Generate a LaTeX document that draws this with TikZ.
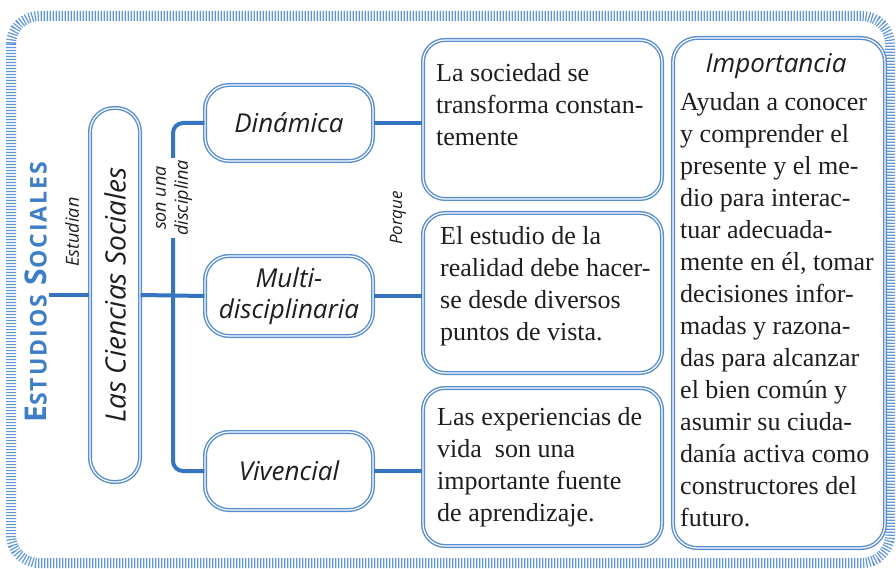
\documentclass[tikz,border=0pt]{standalone}
\usepackage{fontspec}
\setmainfont{Liberation Serif}
\newfontfamily\hand{Open Sans}
\definecolor{lineblue}{RGB}{52,116,192}
\definecolor{boxblue}{RGB}{88,142,208}
\definecolor{stripe}{RGB}{95,150,215}
\definecolor{titleblue}{RGB}{62,126,200}
\definecolor{ink}{RGB}{30,30,30}
\begin{document}
\begin{tikzpicture}[x=1pt,y=-1pt,
  box/.style={draw=boxblue, line width=1.4pt, double=white, double distance=1.2pt, fill=white, rectangle, inner sep=0pt},
  conn/.style={draw=lineblue, line width=4pt},
  handbig/.style={font=\hand\itshape\fontsize{26}{31}\selectfont, text=ink, align=center},
  handsmall/.style={font=\hand\itshape\fontsize{18}{22}\selectfont, text=ink, align=center, inner sep=2pt},
  txt/.style={font=\fontsize{26}{32}\selectfont, text=ink, align=left, inner sep=0pt}]
\useasboundingbox (0,0) rectangle (896,569);
% outer striped frame
\draw[stripe, line width=10pt, dash pattern=on 1.2pt off 1.8pt, rounded corners=28pt] (11,16) rectangle (890,563);

% title
\node[rotate=90, text=titleblue, inner sep=2pt, font=\hand\bfseries\addfontfeature{LetterSpace=9}] (title) at (36,292)
  {{\fontsize{30}{30}\selectfont E}{\fontsize{23}{23}\selectfont STUDIOS}\hspace{9pt}{\fontsize{30}{30}\selectfont S}{\fontsize{23}{23}\selectfont OCIALES}};

% main boxes
\node[box, rotate=90, minimum width=374pt, minimum height=50pt, rounded corners=24pt, handbig, font=\hand\itshape\fontsize{28}{32}\selectfont] (cs) at (115,295) {Las Ciencias Sociales};
\node[box, minimum width=168pt, minimum height=76pt, rounded corners=24pt, handbig] (din) at (289,123) {Dinámica};
\node[box, minimum width=168pt, minimum height=80pt, rounded corners=24pt, handbig] (mul) at (289,296) {Multi-\\disciplinaria};
\node[box, minimum width=168pt, minimum height=78pt, rounded corners=24pt, handbig] (viv) at (289,471) {Vivencial};

\node[box, minimum width=239pt, minimum height=159pt, rounded corners=22pt] (r1) at (542.5,119.5) {};
\node[box, minimum width=239pt, minimum height=160pt, rounded corners=22pt] (r2) at (542.5,293) {};
\node[box, minimum width=239pt, minimum height=158pt, rounded corners=22pt] (r3) at (542.5,467) {};
\node[box, minimum width=212pt, minimum height=510pt, rounded corners=24pt] (imp) at (779,293) {};

% texts in right boxes
\node[txt, anchor=north west] (t1) at (436,63) {La sociedad se\\transforma constan-\\temente};
\node[txt, anchor=north west] (t2) at (440,226) {El estudio de la\\realidad debe hacer-\\se desde diversos\\puntos de vista.};
\node[txt, anchor=north west] (t3) at (437,407) {Las experiencias de\\vida\ \ son una\\importante fuente\\de aprendizaje.};
\node[handbig, anchor=base, inner sep=0pt] (impt) at (776,73) {Importancia};
\node[txt, anchor=north west] (t4) at (680,92) {Ayudan a conocer\\y comprender el\\presente y el me-\\dio para interac-\\tuar adecuada-\\mente en él, tomar\\decisiones infor-\\madas y razona-\\das para alcanzar\\el bien común y\\asumir su ciuda-\\danía activa como\\constructores del\\futuro.};

% connectors
\coordinate (trunk) at (173,295);
\draw[conn] (title.south |- cs.north) -- (cs.north);
\draw[conn] (cs.south) -- (mul.west);
\draw[conn, rounded corners=10pt] (din.west) -| (trunk) |- (viv.west);
\draw[conn] (din.east) -- (din.east -| r1.west);
\draw[conn] (mul.east) -- (mul.east -| r2.west);
\draw[conn] (viv.east) -- (viv.east -| r3.west);

% labels
\node[handsmall, rotate=90] (lest) at (72,232) {Estudian};
\node[handsmall, rotate=90, fill=white] (lson) at (174,198) {son una\\disciplina};
\node[handsmall, rotate=90, font=\hand\itshape\fontsize{17}{20}\selectfont] (lpor) at (398,218) {Porque};
\end{tikzpicture}
\end{document}
